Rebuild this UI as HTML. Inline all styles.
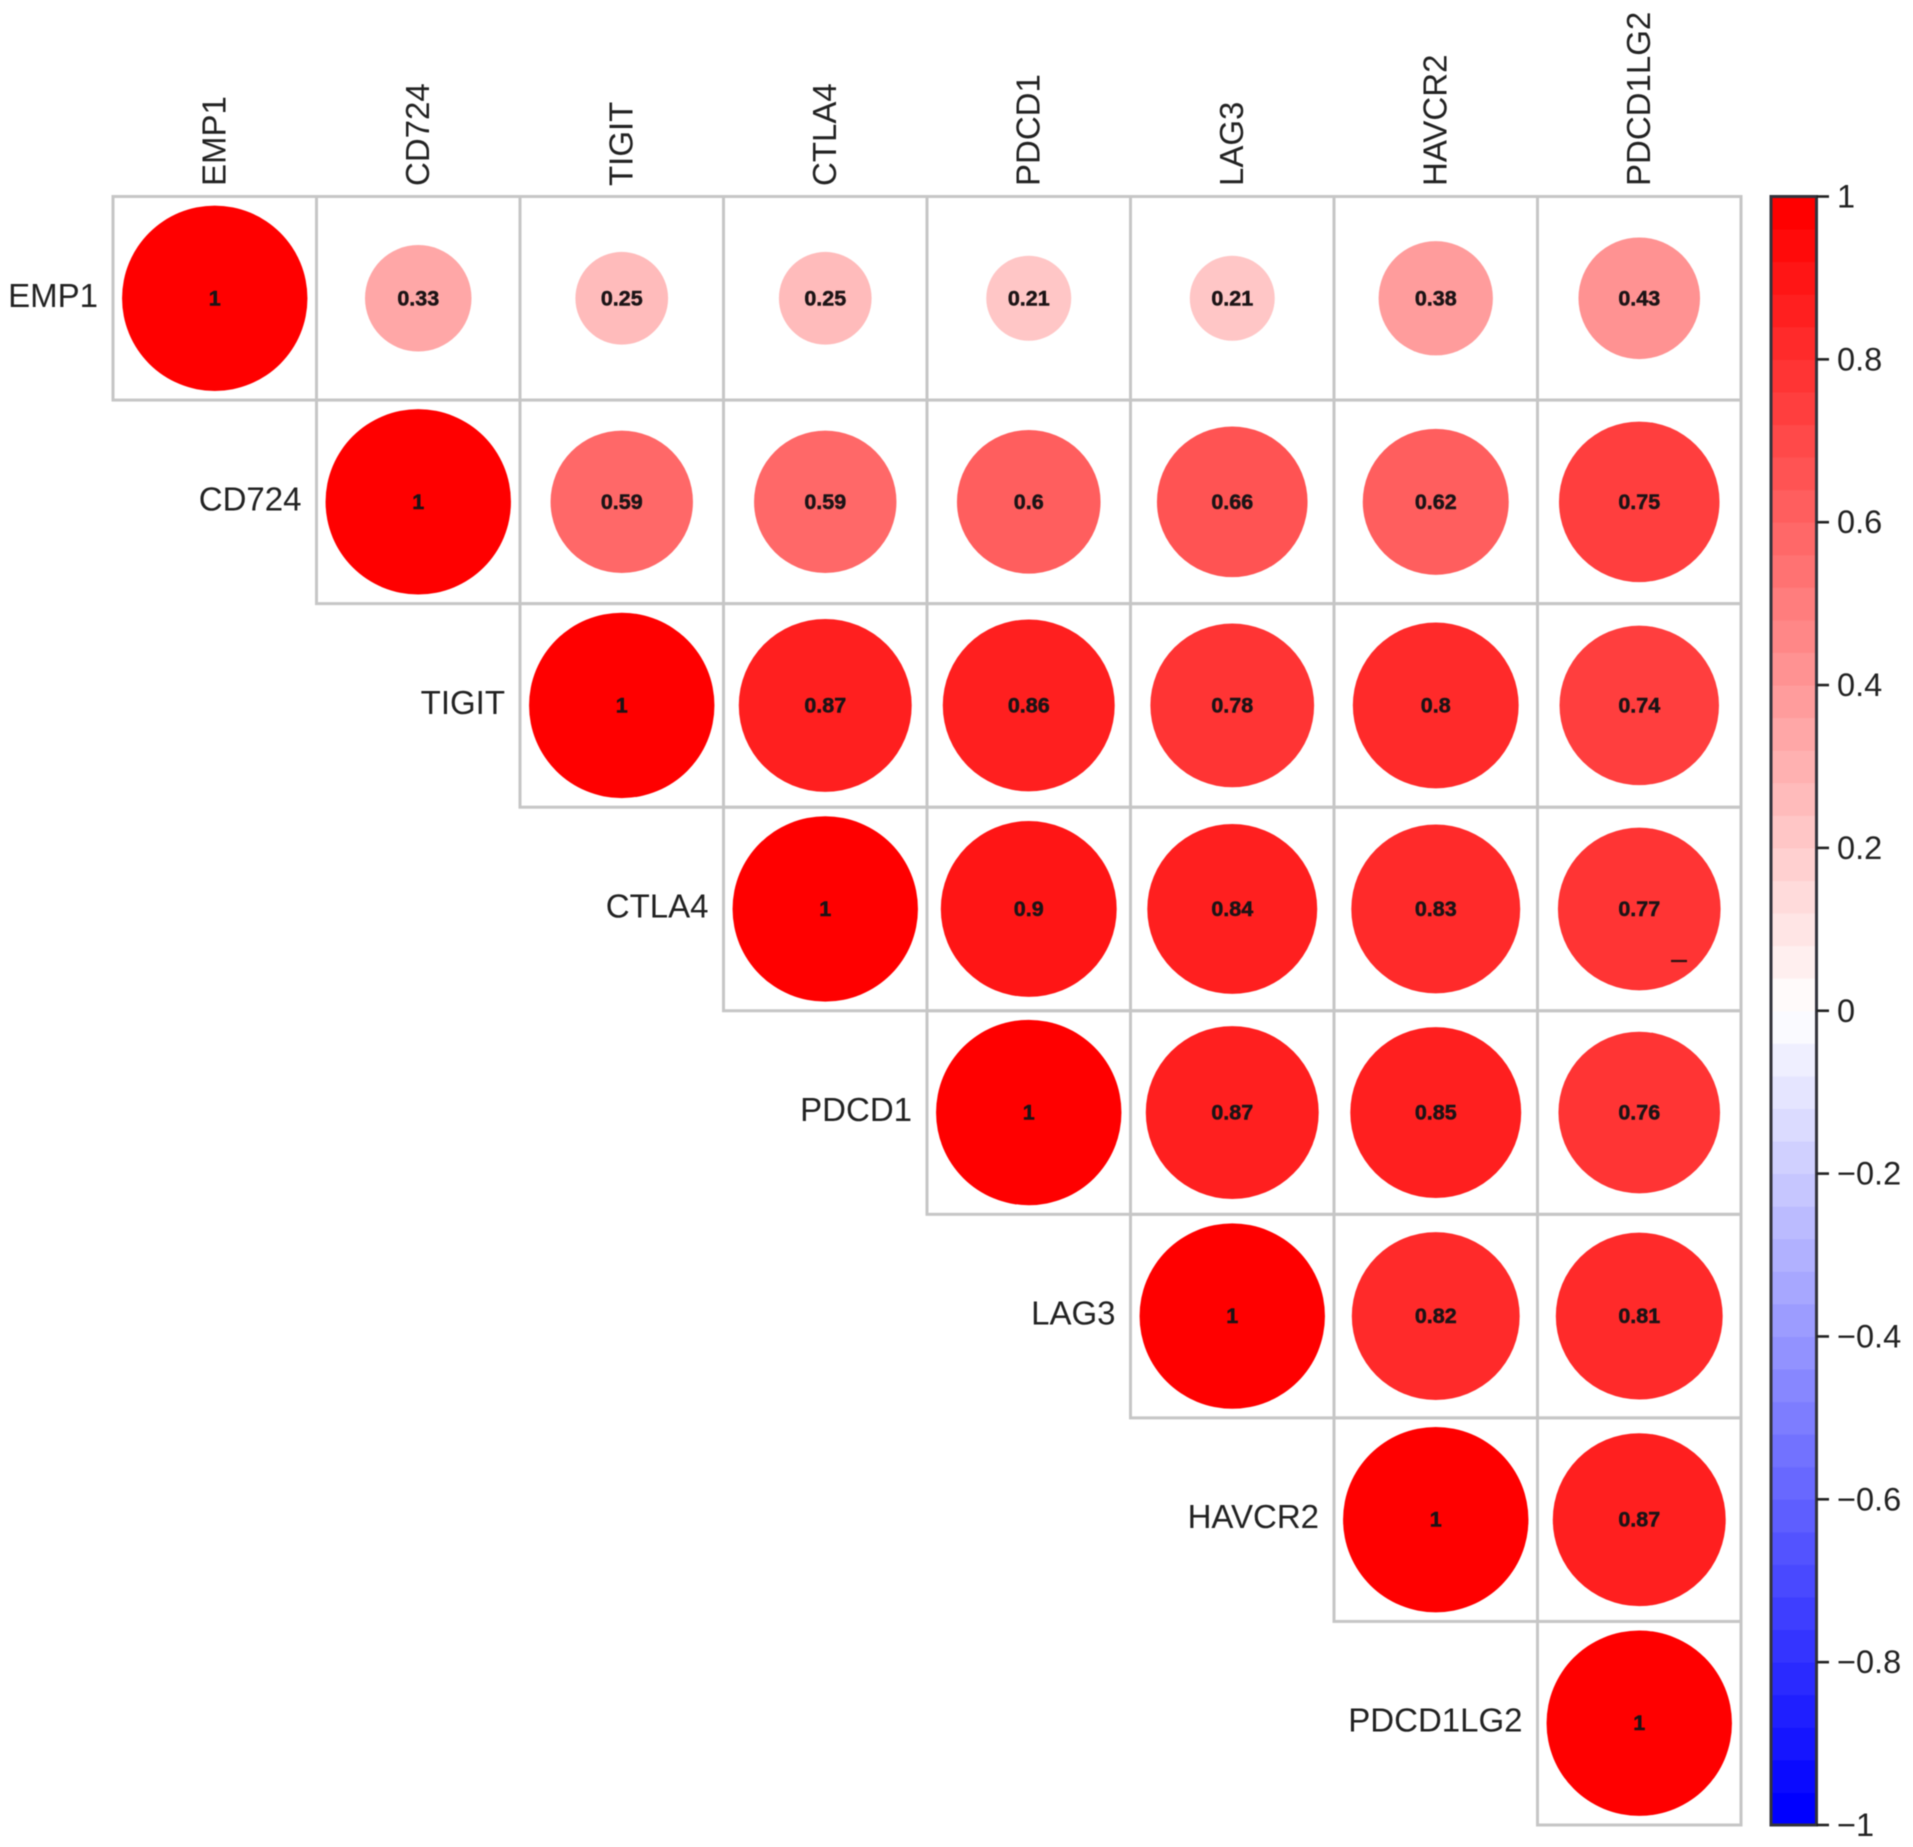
<!DOCTYPE html>
<html>
<head>
<meta charset="utf-8">
<title>Correlation matrix</title>
<style>
  html, body { margin: 0; padding: 0; background: #fff; }
  svg { display: block; filter: blur(0.6px); }
  text { font-family: "Liberation Sans", Arial, sans-serif; }
</style>
</head>
<body>
<svg id="chart" xmlns="http://www.w3.org/2000/svg" width="1913" height="1847" viewBox="0 0 1913 1847">
  <rect x="-5" y="-5" width="1923" height="1857" fill="#ffffff"/>
  <g id="cells"></g>
  <g id="marks"></g>
  <g id="values"></g>
  <g id="top-labels"></g>
  <g id="left-labels"></g>
  <g id="colorbar"></g>
  <line x1="1671" y1="961" x2="1687" y2="961" stroke="#2a1212" stroke-width="2.2"/>
</svg>
<script>
var genes = ["EMP1", "CD724", "TIGIT", "CTLA4", "PDCD1", "LAG3", "HAVCR2", "PDCD1LG2"];
var row0 = [1, 0.33, 0.25, 0.25, 0.21, 0.21, 0.38, 0.43];
var row1 = [1, 0.59, 0.59, 0.6, 0.66, 0.62, 0.75];
var row2 = [1, 0.87, 0.86, 0.78, 0.8, 0.74];
var row3 = [1, 0.9, 0.84, 0.83, 0.77];
var row4 = [1, 0.87, 0.85, 0.76];
var row5 = [1, 0.82, 0.81];
var row6 = [1, 0.87];
var row7 = [1];
var rows = [row0, row1, row2, row3, row4, row5, row6, row7];
var barTicks = [1, 0.8, 0.6, 0.4, 0.2, 0, -0.2, -0.4, -0.6, -0.8, -1];
var barTickLabels = ["1", "0.8", "0.6", "0.4", "0.2", "0", "\u22120.2", "\u22120.4", "\u22120.6", "\u22120.8", "\u22121"];
var paletteSize = 50;

var NS = "http://www.w3.org/2000/svg";
var GRID_LEFT = 113, GRID_RIGHT = 1741, GRID_TOP = 196.5, GRID_BOTTOM = 1825;
var CELL_W = (GRID_RIGHT - GRID_LEFT) / genes.length;
var CELL_H = (GRID_BOTTOM - GRID_TOP) / genes.length;
var MAX_R = 92.7;
var BAR_LEFT = 1771, BAR_RIGHT = 1816.5;

function xScale(j) { return GRID_LEFT + CELL_W * j; }
function yScale(i) { return GRID_TOP + CELL_H * i; }
function radius(v) { return MAX_R * Math.sqrt(Math.abs(v)); }
function barY(v) { return GRID_TOP + (1 - v) / 2 * (GRID_BOTTOM - GRID_TOP); }

function bandColor(k) {
  var t = k / (paletteSize - 1) * 2 - 1;
  var c = Math.round(255 * (1 - Math.abs(t)));
  return t >= 0 ? "rgb(255," + c + "," + c + ")" : "rgb(" + c + "," + c + ",255)";
}
function valueColor(v) {
  var k = Math.min(paletteSize - 1, Math.floor((v + 1) / 2 * paletteSize));
  return bandColor(k);
}
function make(tag, parent, props, content) {
  var el = document.createElementNS(NS, tag);
  for (var p in props) { el.setAttribute(p, props[p]); }
  if (content !== undefined) { el.textContent = content; }
  document.getElementById(parent).appendChild(el);
  return el;
}

rows.forEach(function (values, i) {
  values.forEach(function (v, offset) {
    var j = i + offset;
    var cx = xScale(j) + CELL_W / 2;
    var cy = yScale(i) + CELL_H / 2;

    var cell = make("rect", "cells", { x: xScale(j), y: yScale(i), width: CELL_W, height: CELL_H, fill: "none", stroke: "#c6c6c6", "stroke-width": 3 });
    
    

    var circle = make("circle", "marks", { cx: cx, cy: cy, r: radius(v), fill: valueColor(v) });
    
    

    var label = make("text", "values", { x: cx, y: cy + 7, "text-anchor": "middle", "font-size": 21.5, "font-weight": "bold", fill: "#1c1416", stroke: "#1c1416", "stroke-width": 0.5 }, String(v));
    
    
  });
});

genes.forEach(function (name, i) {
  var tx = xScale(i) + CELL_W / 2 + 10.5;
  var top = make("text", "top-labels", { x: tx, y: 186, "font-size": 33, fill: "#222222", transform: "rotate(-90 " + tx + " 186)" }, name);
  
  

  var left = make("text", "left-labels", { x: xScale(i) - 15, y: yScale(i) + CELL_H / 2 + 8.5, "text-anchor": "end", "font-size": 33, fill: "#222222" }, name);
  
  
});

for (var k = 0; k < paletteSize; k++) {
  var bandTop = barY(-1 + (k + 1) / paletteSize * 2);
  var bandBottom = barY(-1 + k / paletteSize * 2);
  var band = make("rect", "colorbar", { x: BAR_LEFT, y: bandTop, width: BAR_RIGHT - BAR_LEFT, height: bandBottom - bandTop + 0.5, fill: bandColor(k) });
  
  
}
var frame = make("rect", "colorbar", { x: BAR_LEFT, y: GRID_TOP, width: BAR_RIGHT - BAR_LEFT, height: GRID_BOTTOM - GRID_TOP, fill: "none", stroke: "#33333c", "stroke-width": 3 });



barTicks.forEach(function (v, i) {
  var y = barY(v);
  var tick = make("line", "colorbar", { x1: BAR_RIGHT, y1: y, x2: 1829, y2: y, stroke: "#222222", "stroke-width": 2.6 });
  
  

  var label = make("text", "colorbar", { x: 1837, y: y + 11, "font-size": 32.5, fill: "#222222" }, barTickLabels[i]);
  
  
});
</script>
</body>
</html>
